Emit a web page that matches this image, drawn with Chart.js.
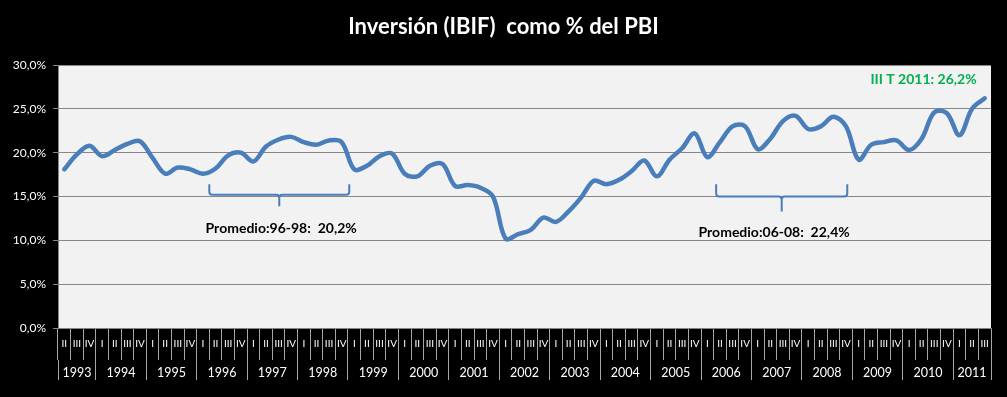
<!DOCTYPE html>
<html><head><meta charset="utf-8">
<script src="https://cdn.jsdelivr.net/npm/chart.js@4.4.1/dist/chart.umd.min.js"></script>
<style>html,body{margin:0;padding:0;background:#000;}#wrap{width:1007px;height:397px;}</style>
</head><body><div id="wrap"><canvas id="c" width="1007" height="397"></canvas></div>
<script>
const chartTitle = 'Inversión (IBIF)  como % del PBI';
const years = ['1993','1994','1995','1996','1997','1998','1999','2000','2001','2002','2003','2004','2005','2006','2007','2008','2009','2010','2011'];
const quartersPerYear = [3,4,4,4,4,4,4,4,4,4,4,4,4,4,4,4,4,4,3];
const quarterLabels = [
 'II','III','IV',
 'I','II','III','IV', 'I','II','III','IV', 'I','II','III','IV', 'I','II','III','IV',
 'I','II','III','IV', 'I','II','III','IV', 'I','II','III','IV', 'I','II','III','IV',
 'I','II','III','IV', 'I','II','III','IV', 'I','II','III','IV', 'I','II','III','IV',
 'I','II','III','IV', 'I','II','III','IV', 'I','II','III','IV', 'I','II','III','IV',
 'I','II','III','IV',
 'I','II','III'
];
const ibifPct = [
 18.1,19.8,20.8,
 19.6,20.3,21.0,21.3,
 19.4,17.6,18.3,18.1,
 17.6,18.2,19.7,20.0,
 19.0,20.7,21.5,21.8,
 21.2,20.9,21.4,21.2,
 18.1,18.5,19.6,19.9,
 17.6,17.3,18.5,18.7,
 16.2,16.3,16.0,15.0,
 10.2,10.7,11.2,12.6,
 12.1,13.3,14.9,16.8,
 16.4,16.9,17.9,19.1,
 17.3,19.2,20.5,22.2,
 19.5,21.2,23.0,23.0,
 20.4,21.6,23.6,24.2,
 22.7,23.0,24.1,23.0,
 19.2,20.9,21.2,21.4,
 20.3,21.6,24.6,24.5,
 22.0,25.0,26.2
];
const yTickValues = [0,5,10,15,20,25,30];

const braces = [
 {from: 11.5, to: 22.6, level: 15.2, top: 16.4, tip: 13.9},
 {from: 51.7, to: 62.1, level: 15.0, top: 16.4, tip: 13.3}
];
const notes = [
 {text: 'Promedio:96-98:  20,2%', at: 17.2, value: 11.3, color: '#000000'},
 {text: 'Promedio:06-08:  22,4%', at: 56.3, value: 10.9, color: '#000000'},
 {text: 'III T 2011: 26,2%', at: 68.15, value: 28.4, color: '#00B050'}
];

// year tick positions on the secondary (linear) axis
const yearTicks = [];
const boundarySet = new Set();
let start = 0;
years.forEach((y, k) => {
  const n = quartersPerYear[k];
  yearTicks.push({value: start - 0.5, label: ''});
  boundarySet.add(start - 0.5);
  yearTicks.push({value: start + (n - 1) / 2, label: y});
  start += n;
});
yearTicks.push({value: start - 0.5, label: ''});
boundarySet.add(start - 0.5);
const yearLabelMap = new Map(yearTicks.map(t => [t.value, t.label]));

const FONT = 'Lato, "Open Sans", sans-serif';
Chart.defaults.font.family = FONT;

const bgPlugin = {
  id: 'bg',
  beforeDraw(chart) {
    const {ctx, chartArea: a} = chart;
    ctx.save();
    ctx.fillStyle = '#000';
    ctx.fillRect(0, 0, chart.width, chart.height);
    ctx.fillStyle = '#F2F2F2';
    ctx.fillRect(a.left, a.top, a.right - a.left, a.bottom - a.top);
    ctx.restore();
  }
};

const annoPlugin = {
  id: 'anno',
  afterDatasetsDraw(chart) {
    const {ctx} = chart;
    const xs = chart.scales.x, ys = chart.scales.y;
    const px = v => xs.left + (v + 0.5) / quarterLabels.length * (xs.right - xs.left);
    ctx.save();
    ctx.strokeStyle = '#4A7EBB';
    ctx.lineWidth = 2;
    braces.forEach(b => {
      const x0 = px(b.from), x1 = px(b.to), xm = (x0 + x1) / 2;
      const yl = ys.getPixelForValue(b.level), yt = ys.getPixelForValue(b.top), yk = ys.getPixelForValue(b.tip);
      const r = 3;
      ctx.beginPath();
      ctx.moveTo(x0, yt);
      ctx.lineTo(x0, yl - r);
      ctx.quadraticCurveTo(x0, yl, x0 + r, yl);
      ctx.lineTo(xm - r, yl);
      ctx.quadraticCurveTo(xm, yl, xm, yl + r);
      ctx.lineTo(xm, yk);
      ctx.moveTo(xm, yl + r);
      ctx.quadraticCurveTo(xm, yl, xm + r, yl);
      ctx.lineTo(x1 - r, yl);
      ctx.quadraticCurveTo(x1, yl, x1, yl - r);
      ctx.lineTo(x1, yt);
      ctx.stroke();
    });
    ctx.textAlign = 'center';
    ctx.textBaseline = 'middle';
    ctx.font = 'bold 14px ' + FONT;
    notes.forEach(n => {
      ctx.fillStyle = n.color;
      ctx.fillText(n.text, px(n.at), ys.getPixelForValue(n.value));
    });
    ctx.restore();
  }
};

new Chart(document.getElementById('c'), {
  type: 'line',
  data: {
    labels: quarterLabels,
    datasets: [{
      data: ibifPct,
      borderColor: '#4A7EBB',
      borderWidth: 4.5,
      pointRadius: 0,
      tension: 0.35,
      fill: false,
      borderCapStyle: 'round',
      borderJoinStyle: 'round'
    }]
  },
  options: {
    responsive: false,
    animation: false,
    devicePixelRatio: 1,
    layout: {padding: {left: 0, right: 0, top: 0, bottom: 15}},
    plugins: {
      legend: {display: false},
      tooltip: {enabled: false},
      title: {
        display: true,
        fullSize: true,
        text: chartTitle,
        color: '#FFFFFF',
        font: {size: 22, weight: 'bold', family: FONT},
        padding: {top: 14, bottom: 24.6}
      }
    },
    scales: {
      y: {
        min: 0, max: 30,
        afterFit(s) { s.width = 58; },
        afterBuildTicks(s) { s.ticks = yTickValues.map(v => ({value: v})); },
        ticks: {
          color: '#FFFFFF',
          font: {size: 12},
          padding: 7,
          callback: v => v.toFixed(1).replace('.', ',') + '%'
        },
        grid: {color: '#868686', lineWidth: 1, tickLength: 5},
        border: {display: true, color: '#868686'}
      },
      yRight: {
        position: 'right',
        min: 0, max: 30,
        afterFit(s) { s.width = 16; },
        ticks: {display: false},
        grid: {display: false, drawOnChartArea: false},
        border: {display: false}
      },
      x: {
        type: 'category',
        offset: true,
        weight: 0,
        afterFit(s) { s.height = 32; },
        grid: {display: true, drawOnChartArea: false, offset: true, tickLength: 32, color: '#A6A6A6'},
        border: {display: true, color: '#868686'},
        ticks: {color: '#FFFFFF', font: {size: 10}, maxRotation: 0, minRotation: 0, autoSkip: false, padding: -22}
      },
      x2: {
        type: 'linear',
        position: 'bottom',
        weight: 1,
        min: -0.5, max: quarterLabels.length - 0.5,
        offset: false,
        afterFit(s) { s.height = 22; },
        afterBuildTicks(s) { s.ticks = yearTicks.map(t => ({value: t.value})); },
        grid: {
          display: true, drawOnChartArea: false, tickLength: 20,
          color: c => (c.tick && boundarySet.has(c.tick.value)) ? '#A6A6A6' : 'rgba(0,0,0,0)'
        },
        border: {display: false},
        ticks: {
          color: '#FFFFFF', font: {size: 12.5}, maxRotation: 0, minRotation: 0, autoSkip: false, padding: -15,
          callback: v => yearLabelMap.get(v) || ''
        }
      }
    }
  },
  plugins: [bgPlugin, annoPlugin]
});
</script></body></html>
